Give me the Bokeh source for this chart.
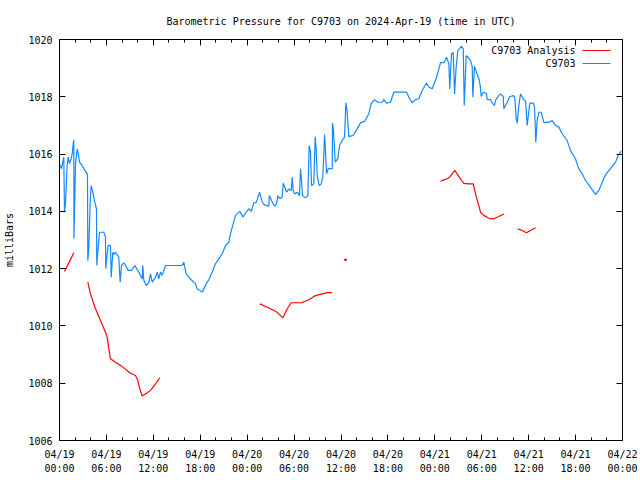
import math
from bokeh.plotting import figure
from bokeh.models import FixedTicker, LinearAxis, Range1d, Label, Arrow
from bokeh.embed import file_html
from bokeh.resources import INLINE

TITLE = "Barometric Pressure for C9703 on 2024-Apr-19 (time in UTC)"
Y_LABEL = "milliBars"
STATION_NAME = "C9703"
ANALYSIS_NAME = "C9703 Analysis"

# x axis: hours since 2024-04-19 00:00 UTC
x_tick_hours = [0, 6, 12, 18, 24, 30, 36, 42, 48, 54, 60, 66, 72]
x_tick_labels = ["04/19\n00:00", "04/19\n06:00", "04/19\n12:00", "04/19\n18:00",
                 "04/20\n00:00", "04/20\n06:00", "04/20\n12:00", "04/20\n18:00",
                 "04/21\n00:00", "04/21\n06:00", "04/21\n12:00", "04/21\n18:00",
                 "04/22\n00:00"]
y_ticks = [1006, 1008, 1010, 1012, 1014, 1016, 1018, 1020]

station_hours = [
    0.00, 0.26, 0.55, 0.64, 0.77, 0.98, 1.11, 1.28, 1.45, 1.62, 1.75, 1.83, 1.85, 2.05,
    2.26, 2.39, 2.56, 2.90, 3.24, 3.58, 3.62, 3.75, 3.93, 4.05, 4.26, 4.51, 4.73, 4.77,
    4.95, 5.12, 5.67, 5.88, 5.92, 6.10, 6.23, 6.52, 6.61, 6.82, 6.94, 7.16, 7.58, 7.76,
    7.93, 8.22, 8.44, 8.79, 9.21, 9.63, 9.72, 10.14, 10.58, 10.65, 10.78, 11.09, 11.42,
    11.64, 11.86, 12.28, 12.50, 12.70, 12.92, 13.13, 13.56, 15.69, 15.90, 16.20, 16.75,
    17.39, 17.61, 18.25, 18.89, 19.09, 19.53, 19.95, 20.37, 20.81, 21.23, 21.65, 21.87,
    22.22, 22.51, 23.06, 23.49, 23.79, 24.21, 24.52, 24.85, 25.19, 25.58, 25.80, 26.05,
    26.47, 26.77, 26.82, 27.11, 27.50, 27.75, 27.92, 28.17, 28.48, 28.61, 28.90, 29.03,
    29.33, 29.63, 29.76, 29.89, 30.05, 30.40, 30.69, 30.82, 30.95, 31.08, 31.46, 31.76,
    31.93, 32.10, 32.23, 32.52, 32.70, 32.83, 32.96, 33.21, 33.47, 33.67, 33.80, 33.89,
    33.98, 34.15, 34.36, 34.88, 34.91, 35.04, 35.26, 35.59, 35.81, 36.15, 36.45, 36.62,
    36.75, 37.00, 37.56, 38.07, 38.50, 39.01, 39.56, 39.86, 40.29, 40.71, 41.27, 41.48,
    41.82, 42.33, 42.75, 44.38, 44.67, 45.11, 45.53, 45.95, 46.39, 46.94, 47.23, 47.67,
    48.22, 48.73, 49.15, 49.49, 49.79, 49.91, 50.13, 50.35, 50.52, 50.73, 50.94, 51.20,
    51.37, 51.63, 51.76, 52.01, 52.22, 52.56, 52.78, 52.86, 53.07, 53.33, 53.63, 53.80,
    53.93, 54.19, 54.61, 54.70, 55.12, 55.34, 55.63, 55.76, 56.18, 56.40, 56.75, 56.82,
    57.26, 57.59, 58.10, 58.23, 58.41, 58.54, 58.74, 58.96, 59.30, 59.60, 59.81, 60.15,
    60.58, 60.75, 60.91, 61.09, 61.30, 61.61, 61.94, 62.58, 63.01, 63.43, 63.86, 64.29,
    64.93, 65.35, 65.99, 66.41, 66.85, 67.27, 67.91, 68.55, 68.97, 69.41, 69.83, 70.47,
    71.11, 71.53, 71.84,
]
station_mbar = [
    1015.66, 1015.49, 1015.89, 1013.97, 1014.32, 1015.60, 1015.90, 1015.67, 1015.80, 1016.00,
    1016.36, 1016.50, 1013.05, 1015.66, 1016.18, 1016.05, 1015.72, 1015.60, 1015.43, 1015.30,
    1012.28, 1012.75, 1014.38, 1014.90, 1014.67, 1014.32, 1014.09, 1012.11, 1012.75, 1013.27,
    1013.27, 1013.10, 1012.00, 1012.52, 1012.81, 1012.81, 1011.70, 1012.57, 1012.50, 1012.57,
    1012.40, 1011.53, 1012.11, 1012.20, 1012.11, 1011.94, 1011.94, 1012.11, 1012.07, 1011.88,
    1011.64, 1012.11, 1011.60, 1011.41, 1011.50, 1011.82, 1011.53, 1011.70, 1011.88, 1011.64,
    1011.88, 1011.77, 1012.11, 1012.11, 1012.22, 1011.82, 1011.64, 1011.47, 1011.30, 1011.18,
    1011.53, 1011.61, 1011.88, 1012.17, 1012.34, 1012.52, 1012.81, 1012.92, 1013.22, 1013.57,
    1013.86, 1014.00, 1013.80, 1013.95, 1014.09, 1014.00, 1014.29, 1014.32, 1014.67, 1014.44,
    1014.26, 1014.20, 1014.18, 1014.55, 1014.38, 1014.18, 1014.26, 1014.55, 1014.44, 1014.50,
    1014.98, 1014.78, 1014.67, 1014.78, 1014.72, 1015.19, 1014.72, 1014.61, 1014.67, 1014.55,
    1015.49, 1015.08, 1014.55, 1014.47, 1014.55, 1016.30, 1016.07, 1014.90, 1014.96, 1016.61,
    1016.13, 1015.25, 1014.90, 1014.96, 1015.19, 1015.95, 1016.68, 1016.30, 1015.31, 1015.49,
    1015.49, 1017.08, 1016.82, 1015.72, 1015.84, 1016.30, 1016.48, 1016.59, 1017.79, 1017.58,
    1016.61, 1016.65, 1016.88, 1017.09, 1017.14, 1017.41, 1017.76, 1017.90, 1017.81, 1017.81,
    1017.90, 1017.78, 1017.81, 1018.16, 1018.16, 1017.99, 1017.79, 1017.90, 1017.93, 1018.22,
    1018.48, 1018.34, 1018.28, 1018.68, 1019.19, 1019.19, 1019.38, 1019.16, 1018.28, 1019.50,
    1019.55, 1018.10, 1019.05, 1019.62, 1019.68, 1019.77, 1019.68, 1017.70, 1019.44, 1019.38,
    1019.27, 1019.05, 1017.99, 1019.07, 1018.85, 1018.63, 1018.40, 1018.01, 1018.16, 1018.12,
    1017.90, 1017.90, 1017.78, 1017.70, 1017.88, 1018.04, 1018.10, 1018.01, 1017.58, 1017.81,
    1018.01, 1018.04, 1017.93, 1017.23, 1017.08, 1017.70, 1018.10, 1017.93, 1017.85, 1017.00,
    1017.78, 1017.78, 1017.64, 1016.41, 1017.19, 1017.46, 1017.46, 1017.11, 1017.11, 1017.17,
    1017.00, 1016.94, 1016.71, 1016.47, 1016.12, 1015.83, 1015.49, 1015.31, 1015.08, 1014.84,
    1014.59, 1014.73, 1015.02, 1015.28, 1015.49, 1015.72, 1015.99, 1016.10,
]

# analysis series: separate runs (gaps between them)
analysis_hours = [
    [0.64, 1.83],
    [3.62, 3.96, 4.60, 5.24, 5.88, 6.10, 6.31, 6.52, 7.16, 8.02, 9.08, 9.72, 10.01, 10.27,
     10.58, 11.13, 11.64, 12.28, 12.83],
    [25.62, 26.35, 26.99, 27.62, 28.05, 28.56, 29.12, 29.63, 30.91, 31.68, 32.10, 32.74,
     33.60, 34.24, 34.88],
    [36.58],
    [48.73, 49.15, 49.58, 49.91, 50.22, 50.55, 51.07, 51.37, 51.71, 52.35, 52.91, 53.11,
     53.42, 53.63, 53.84, 54.26, 54.90, 55.54, 56.18, 56.82],
    [58.61, 59.18, 59.72, 60.24, 60.88],
]
analysis_mbar = [
    [1011.90, 1012.55],
    [1011.53, 1011.12, 1010.60, 1010.19, 1009.78, 1009.60, 1009.20, 1008.85, 1008.73, 1008.58,
     1008.35, 1008.27, 1008.10, 1007.80, 1007.55, 1007.65, 1007.75, 1007.98, 1008.19],
    [1010.77, 1010.68, 1010.60, 1010.51, 1010.42, 1010.28, 1010.60, 1010.81, 1010.81, 1010.89,
     1010.95, 1011.06, 1011.12, 1011.16, 1011.16],
    [1012.31],
    [1015.05, 1015.10, 1015.14, 1015.20, 1015.31, 1015.43, 1015.22, 1015.10, 1014.98, 1014.96,
     1014.96, 1014.73, 1014.38, 1014.20, 1013.97, 1013.86, 1013.76, 1013.74, 1013.82, 1013.91],
    [1013.39, 1013.33, 1013.25, 1013.33, 1013.43],
]

STATION_COLOR = "#1488ff"
ANALYSIS_COLOR = "#ff0000"
FONT = "DejaVu Sans Mono"
FS = "10px"

p = figure(width=640, height=480, output_backend="svg", toolbar_location=None,
           x_range=Range1d(x_tick_hours[0], x_tick_hours[-1]),
           y_range=Range1d(y_ticks[0], y_ticks[-1]),
           min_border_left=59, min_border_right=18, min_border_top=39, min_border_bottom=40)

p.title.text = TITLE
p.title.align = "center"
p.title.vertical_align = "top"
p.title.text_font = FONT
p.title.text_font_size = FS
p.title.text_font_style = "normal"
p.title.text_color = "black"
p.title.standoff = 22

p.xgrid.visible = False
p.ygrid.visible = False
p.outline_line_color = "black"
p.outline_line_width = 1

minor_hours = [h for h in range(x_tick_hours[0], x_tick_hours[-1] + 1, 2) if h % 6]
xt = FixedTicker(ticks=x_tick_hours, minor_ticks=minor_hours)
yt = FixedTicker(ticks=y_ticks, minor_ticks=[])

def style_axis(ax):
    ax.axis_line_color = "black"
    ax.major_tick_in = 6
    ax.major_tick_out = 0
    ax.minor_tick_in = 3
    ax.minor_tick_out = 0
    ax.major_tick_line_color = "black"
    ax.minor_tick_line_color = "black"
    ax.major_label_text_font = FONT
    ax.major_label_text_font_size = FS
    ax.major_label_text_color = "black"

p.xaxis.ticker = xt
p.xaxis.major_label_overrides = {h: lab for h, lab in zip(x_tick_hours, x_tick_labels)}
p.xaxis.major_label_standoff = 8
p.xaxis.major_label_text_line_height = 1.35
style_axis(p.xaxis[0])

p.yaxis.ticker = yt
p.yaxis.major_label_standoff = 7
p.yaxis.axis_label = Y_LABEL
p.yaxis.axis_label_text_font = FONT
p.yaxis.axis_label_text_font_size = FS
p.yaxis.axis_label_text_font_style = "normal"
p.yaxis.axis_label_text_color = "black"
p.yaxis.axis_label_standoff = 10
style_axis(p.yaxis[0])

# mirrored ticks on top and right (no labels)
top = LinearAxis(ticker=xt, major_label_standoff=0)
style_axis(top)
top.major_label_text_color = None
p.add_layout(top, "above")
right = LinearAxis(ticker=yt, major_label_standoff=0)
style_axis(right)
right.major_label_text_color = None
p.add_layout(right, "right")

# station series
p.line(station_hours, station_mbar, line_color=STATION_COLOR, line_width=1.2)

# analysis series
multi_x = [hs for hs in analysis_hours if len(hs) > 1]
multi_y = [ms for ms in analysis_mbar if len(ms) > 1]
p.multi_line(multi_x, multi_y, line_color=ANALYSIS_COLOR, line_width=1.2)
single_x = [hs[0] for hs in analysis_hours if len(hs) == 1]
single_y = [ms[0] for ms in analysis_mbar if len(ms) == 1]
p.scatter(single_x, single_y, marker="square", size=1.5, color=ANALYSIS_COLOR)

# gnuplot-style key (text right, sample line to the right)
for i, (name, col) in enumerate([(ANALYSIS_NAME, ANALYSIS_COLOR), (STATION_NAME, STATION_COLOR)]):
    yy = 390 - 13 * i
    p.add_layout(Label(x=516, y=yy, x_units="screen", y_units="screen", text=name,
                       text_align="right", text_baseline="middle", text_font=FONT,
                       text_font_size=FS, text_color="black"))
    p.add_layout(Arrow(start=None, end=None, x_start=523, y_start=yy, x_end=551, y_end=yy,
                       start_units="screen", end_units="screen", line_color=col, line_width=1))

open("out.html", "w").write(file_html(p, INLINE))
